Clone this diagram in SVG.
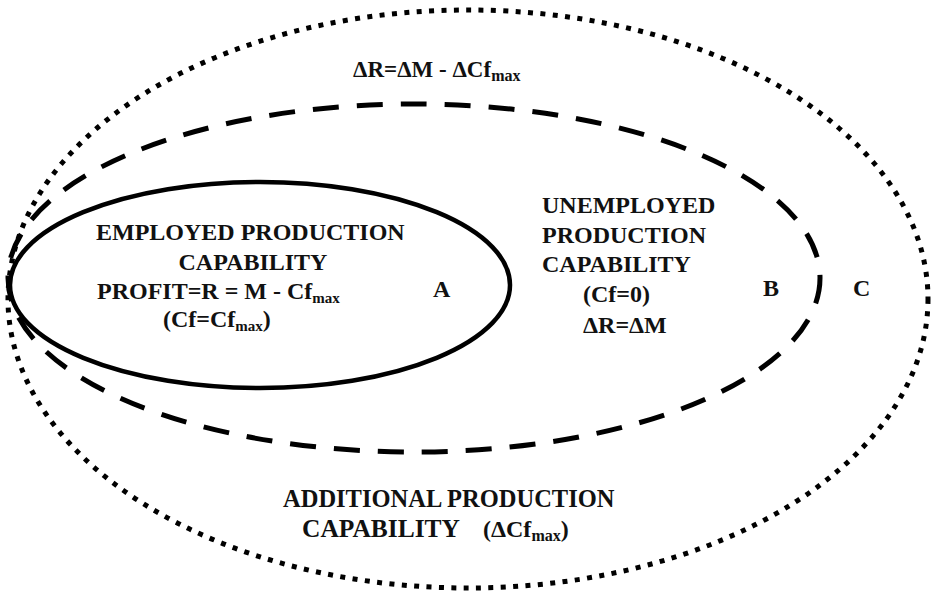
<svg xmlns="http://www.w3.org/2000/svg" width="931" height="594" viewBox="0 0 931 594">
  <style>
    text { font-family: "Liberation Serif", "Times New Roman", "DejaVu Serif", serif; font-weight: bold; fill: #111; }
    .t24 { font-size: 24px; }
    .t25 { font-size: 24.5px; }
    .t22 { font-size: 23px; }
    .sub { font-size: 15px; }
    .sub16 { font-size: 16px; }
    .dotted { fill: none; stroke: #000; stroke-width: 5; stroke-dasharray: 5 7.4; }
    .dashed { fill: none; stroke: #000; stroke-width: 5; stroke-dasharray: 26 18; }
    .solid { fill: none; stroke: #000; stroke-width: 4.5; }
  </style>
  <rect width="931" height="594" fill="#fff"/>

  <!-- C: additional production capability -->
  <g id="region-c">
    <ellipse class="dotted" cx="468" cy="299" rx="460" ry="289"/>
    <text class="t22" x="353" y="77">ΔR=ΔM - ΔCf<tspan class="sub16" dy="4">max</tspan></text>
    <text class="t24" x="853" y="296">C</text>
    <text class="t25" x="283" y="507">ADDITIONAL PRODUCTION</text>
    <text class="t25" x="302" y="537" textLength="158" lengthAdjust="spacingAndGlyphs">CAPABILITY</text>
    <text class="t24" x="483" y="537">(ΔCf<tspan class="sub16" dy="4">max</tspan><tspan dy="-4">)</tspan></text>
  </g>

  <!-- B: unemployed production capability -->
  <g id="region-b">
    <ellipse class="dashed" cx="414" cy="278" rx="406" ry="174"/>
    <text class="t24" x="542" y="213">UNEMPLOYED</text>
    <text class="t24" x="542" y="243">PRODUCTION</text>
    <text class="t24" x="542" y="272">CAPABILITY</text>
    <text class="t24" x="583" y="302">(Cf=0)</text>
    <text class="t24" x="583" y="333">ΔR=ΔM</text>
    <text class="t24" x="763" y="296">B</text>
  </g>

  <!-- A: employed production capability -->
  <g id="region-a">
    <ellipse class="solid" cx="260" cy="285" rx="250" ry="103"/>
    <text class="t24" x="96" y="240">EMPLOYED PRODUCTION</text>
    <text class="t24" x="253" y="270" text-anchor="middle">CAPABILITY</text>
    <text class="t24" x="97" y="299">PROFIT=R = M - Cf<tspan class="sub" dy="4">max</tspan></text>
    <text class="t24" x="163" y="327">(Cf=Cf<tspan class="sub" dy="4">max</tspan><tspan dy="-4">)</tspan></text>
    <text class="t24" x="433" y="297">A</text>
  </g>
</svg>
